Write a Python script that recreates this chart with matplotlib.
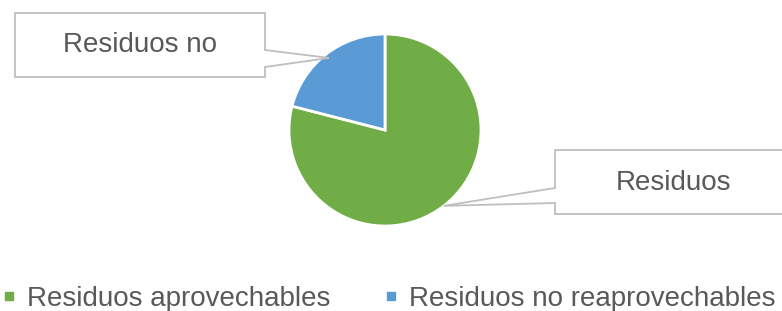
import matplotlib.pyplot as plt
from matplotlib.lines import Line2D
from matplotlib.patches import Polygon
import numpy as np

categories = ["Residuos aprovechables", "Residuos no reaprovechables"]
values = [79, 21]
colors = ["#70AD47", "#5B9BD5"]
callout_texts = ["Residuos", "Residuos no"]

W, H = 782, 311
plt.rcParams["font.family"] = ["Liberation Sans", "DejaVu Sans"]
text_color = "#595959"
edge_gray = "#BFBFBF"

fig = plt.figure(figsize=(W / 100, H / 100), dpi=100)

# pie axes placed in pixel terms: centre (385, 130), radius 96
cx, cy, r = 385, 130, 96
ax = fig.add_axes([(cx - r) / W, (H - cy - r) / H, 2 * r / W, 2 * r / H])
wedges, _ = ax.pie(
    values,
    colors=colors,
    startangle=90,
    counterclock=False,
    radius=1,
    wedgeprops=dict(edgecolor="white", linewidth=2),
)
ax.set_xlim(-1, 1)
ax.set_ylim(-1, 1)
ax.set_aspect("equal")
ax.axis("off")


def px(x, y):
    # pixel coords (y from top) -> figure fraction
    return (x / W, (H - y) / H)


def tip_for(wedge, frac):
    ang = np.deg2rad((wedge.theta1 + wedge.theta2) / 2)
    return cx + frac * r * np.cos(ang), cy - frac * r * np.sin(ang)


# callout for the blue slice (box on the left)
tx, ty = tip_for(wedges[1], 0.95)
box1 = [(15, 13), (265, 13), (265, 50), (tx, ty), (265, 67), (265, 77), (15, 77)]
# callout for the green slice (box on the right, runs off the edge)
tx, ty = tip_for(wedges[0], 1.0)
box2 = [(555, 150), (805, 150), (805, 214), (555, 214), (555, 203), (tx, ty), (555, 188)]

for pts, label, center in [
    (box1, callout_texts[1], (140, 45)),
    (box2, callout_texts[0], (673, 183)),
]:
    poly = Polygon(
        [px(x, y) for x, y in pts],
        closed=True,
        transform=fig.transFigure,
        facecolor="white",
        edgecolor=edge_gray,
        linewidth=1.3,
        zorder=5,
    )
    fig.add_artist(poly)
    fig.text(*px(*center), label, ha="center", va="center",
             fontsize=20, color=text_color, zorder=6)

# legend
handles = [
    Line2D([], [], marker="s", linestyle="none", markersize=6,
           markerfacecolor=c, markeredgecolor=c)
    for c in colors
]
fig.legend(
    handles,
    categories,
    loc="center",
    bbox_to_anchor=(0.496, (H - 299) / H),
    ncol=2,
    frameon=False,
    fontsize=20,
    labelcolor=text_color,
    handlelength=0.6,
    handletextpad=0.33,
    columnspacing=1.9,
    borderaxespad=0,
)

fig.savefig("out.png", dpi=100)
